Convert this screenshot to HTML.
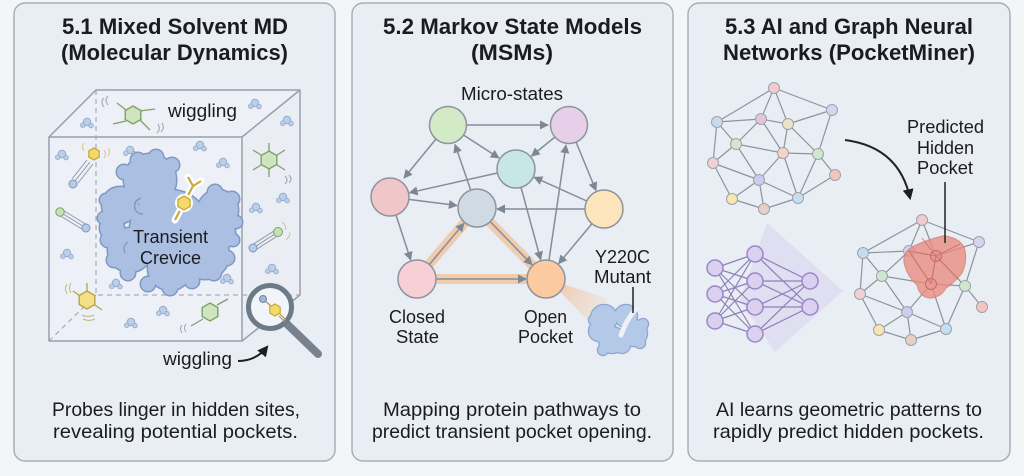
<!DOCTYPE html>
<html><head><meta charset="utf-8"><style>
html,body{margin:0;padding:0;background:#f4f5f7;}
svg{display:block;}
text{font-family:"Liberation Sans",Arial,sans-serif;fill:#1c1c1e;}
</style></head><body>
<svg width="1024" height="476" viewBox="0 0 1024 476" xmlns="http://www.w3.org/2000/svg">
<defs>
<marker id="ag" viewBox="0 0 10 10" refX="9" refY="5" markerWidth="9" markerHeight="9" markerUnits="userSpaceOnUse" orient="auto"><path d="M0,0 L10,5 L0,10 z" fill="#7e8794"/></marker>
<marker id="ab" viewBox="0 0 10 10" refX="8" refY="5" markerWidth="11" markerHeight="11" markerUnits="userSpaceOnUse" orient="auto"><path d="M0,0 L10,5 L0,10 z" fill="#1e1e1e"/></marker>
<polygon id="hex9" points="0,-9 7.8,-4.5 7.8,4.5 0,9 -7.8,4.5 -7.8,-4.5"/>
<polygon id="hex6" points="0,-6 5.2,-3 5.2,3 0,6 -5.2,3 -5.2,-3"/>
<polygon id="hex7" points="0,-7 6.1,-3.5 6.1,3.5 0,7 -6.1,3.5 -6.1,-3.5"/>
<g id="w"><circle cx="0" cy="0" r="3.8"/><circle cx="-4.2" cy="3.2" r="2.3"/><circle cx="4" cy="3.6" r="2.3"/></g>
<g id="blobc">
<circle cx="150" cy="180" r="26"/><circle cx="120" cy="205" r="18"/><circle cx="218" cy="210" r="20"/>
<circle cx="170" cy="230" r="40"/><circle cx="130" cy="250" r="22"/><circle cx="170" cy="268" r="22"/>
<circle cx="205" cy="255" r="24"/><circle cx="215" cy="232" r="20"/><circle cx="112" cy="228" r="12"/>
<circle cx="138" cy="160" r="7"/><circle cx="156" cy="157" r="7"/><circle cx="172" cy="165" r="7"/>
<circle cx="124" cy="172" r="7"/><circle cx="106" cy="200" r="6"/><circle cx="104" cy="218" r="6"/>
<circle cx="108" cy="240" r="7"/><circle cx="114" cy="260" r="7"/><circle cx="128" cy="273" r="7"/>
<circle cx="148" cy="284" r="7"/><circle cx="170" cy="288" r="7"/><circle cx="192" cy="281" r="7"/>
<circle cx="214" cy="273" r="7"/><circle cx="227" cy="258" r="7"/><circle cx="233" cy="240" r="6"/>
<circle cx="236" cy="222" r="6"/><circle cx="232" cy="199" r="7"/><circle cx="215" cy="192" r="7"/>
</g>
<g id="mutc">
<circle cx="604" cy="318" r="13"/><circle cx="626" cy="316" r="11"/><circle cx="634" cy="333" r="13"/>
<circle cx="612" cy="340" r="13"/><circle cx="599" cy="331" r="10"/><circle cx="622" cy="345" r="8"/>
<circle cx="594" cy="320" r="5"/><circle cx="643" cy="324" r="5"/><circle cx="603" cy="350" r="5"/><circle cx="640" cy="343" r="5"/>
</g>
<linearGradient id="beam" x1="0" y1="0" x2="1" y2="0.4"><stop offset="0" stop-color="#f0b98b" stop-opacity="0.85"/><stop offset="1" stop-color="#f3d3b8" stop-opacity="0.3"/></linearGradient>
</defs>

<!-- panels -->
<rect x="14" y="3" width="321" height="458" rx="11" fill="#e9edf4" stroke="#a9afb8" stroke-width="1.5"/>
<rect x="352" y="3" width="321" height="458" rx="11" fill="#e9edf4" stroke="#a9afb8" stroke-width="1.5"/>
<rect x="688" y="3" width="322" height="458" rx="11" fill="#e9edf4" stroke="#a9afb8" stroke-width="1.5"/>

<!-- titles -->
<g font-size="22" font-weight="bold" text-anchor="middle">
<text x="175" y="34" textLength="226" lengthAdjust="spacingAndGlyphs">5.1 Mixed Solvent MD</text>
<text x="174.5" y="60" textLength="227" lengthAdjust="spacingAndGlyphs">(Molecular Dynamics)</text>
<text x="512.5" y="34" textLength="259" lengthAdjust="spacingAndGlyphs">5.2 Markov State Models</text>
<text x="512" y="60" textLength="82" lengthAdjust="spacingAndGlyphs">(MSMs)</text>
<text x="849" y="34" textLength="248" lengthAdjust="spacingAndGlyphs">5.3 AI and Graph Neural</text>
<text x="849" y="60" textLength="252" lengthAdjust="spacingAndGlyphs">Networks (PocketMiner)</text>
</g>

<!-- captions -->
<g font-size="19.5" text-anchor="middle">
<text x="176" y="416" textLength="248" lengthAdjust="spacingAndGlyphs">Probes linger in hidden sites,</text>
<text x="175.5" y="438" textLength="245" lengthAdjust="spacingAndGlyphs">revealing potential pockets.</text>
<text x="512" y="416" textLength="258" lengthAdjust="spacingAndGlyphs">Mapping protein pathways to</text>
<text x="512" y="438" textLength="280" lengthAdjust="spacingAndGlyphs">predict transient pocket opening.</text>
<text x="849" y="416" textLength="266" lengthAdjust="spacingAndGlyphs">AI learns geometric patterns to</text>
<text x="848.5" y="438" textLength="271" lengthAdjust="spacingAndGlyphs">rapidly predict hidden pockets.</text>
</g>

<!-- ===== PANEL 1 ===== -->
<path d="M49,137 L242,137 L242,341 L49,341 Z" fill="#edf0f6"/>
<path d="M49,137 L96,90 L300,90 L242,137 Z" fill="#edf0f6"/>
<path d="M242,137 L300,90 L300,295 L242,341 Z" fill="#eaeef4"/>
<g stroke="#a7aeb8" stroke-width="1.2" stroke-dasharray="5,4" fill="none">
<path d="M96,90 L96,295 L300,295"/>
<path d="M49,341 L96,295"/>
</g>
<g stroke="#98a0ab" stroke-width="1.5" fill="none" stroke-linejoin="round">
<path d="M49,137 L242,137 L242,341 L49,341 Z"/>
<path d="M49,137 L96,90 L300,90 L242,137"/>
<path d="M300,90 L300,295 L242,341"/>
</g>

<!-- waters -->
<g fill="#bccfe9" stroke="#8ea7cb" stroke-width="0.8">
<use href="#w" x="87" y="122"/><use href="#w" x="255" y="103"/><use href="#w" x="287" y="120"/>
<use href="#w" x="62" y="154"/><use href="#w" x="130" y="150"/><use href="#w" x="200" y="145"/>
<use href="#w" x="223" y="162"/><use href="#w" x="283" y="197"/><use href="#w" x="256" y="207"/>
<use href="#w" x="67" y="253"/><use href="#w" x="272" y="268"/><use href="#w" x="116" y="283"/>
<use href="#w" x="163" y="310"/><use href="#w" x="131" y="322"/><use href="#w" x="227" y="278"/>
</g>

<!-- blob -->
<use href="#blobc" fill="#aabfe2" stroke="#7f98c4" stroke-width="3"/>
<use href="#blobc" fill="#aabfe2"/>
<path d="M141,198 q-8,3 -6,11 q2,5 8,5" fill="none" stroke="#7f98c4" stroke-width="1.5"/>
<path d="M128,242 q-6,4 -3,11" fill="none" stroke="#7f98c4" stroke-width="1.3"/>
<!-- yellow probe in crevice -->
<path d="M175,220 L193,186 M193,186 L188,177 M193,186 L201,181" stroke="#ffffff" stroke-width="7" stroke-linecap="round" fill="none"/>
<path d="M175,220 L193,186 M193,186 L188,177 M193,186 L201,181" stroke="#c9a93a" stroke-width="2.2" fill="none"/>
<circle cx="184" cy="203" r="9" fill="#fff"/>
<use href="#hex7" x="184" y="203" fill="#f5d96b" stroke="#c9a93a" stroke-width="1.4"/>
<g font-size="18" text-anchor="middle">
<text x="170.5" y="243" textLength="75" lengthAdjust="spacingAndGlyphs">Transient</text>
<text x="170.5" y="264" textLength="61" lengthAdjust="spacingAndGlyphs">Crevice</text>
</g>

<!-- top green benzene -->
<g stroke="#7fa06a" stroke-width="1.3" fill="none">
<path d="M126,110 L117,103 M140,111 L155,109 M126,121 L113,124 M140,120 L150,130"/>
<path d="M108,96 q-4,4 0,9 M104,98 q-4,4 0,9 M158,124 q3,5 -1,9 M162,123 q3,5 -1,9" stroke="#9aa3ad" stroke-width="1"/>
</g>
<use href="#hex9" x="133" y="115" fill="#cfe5bf" stroke="#7fa06a" stroke-width="1.4"/>
<!-- right face green benzene -->
<g stroke="#7fa06a" stroke-width="1.3">
<path d="M269,151 L269,143 M277,155 L285,150 M277,165 L285,170 M269,169 L269,177 M261,165 L253,170 M261,155 L253,150"/>
</g>
<use href="#hex9" x="269" y="160" fill="#cfe5bf" stroke="#7fa06a" stroke-width="1.4"/>
<path d="M285,176 q4,4 0,8 M289,175 q4,4 0,8" stroke="#9aa3ad" stroke-width="1" fill="none"/>
<!-- yellow hex + triple bond -->
<path d="M90,162 L75,181 M87,160 L72,179 M93,164 L78,183" stroke="#8d9aab" stroke-width="1"/>
<circle cx="73" cy="184" r="4" fill="#b8cbe6" stroke="#7f96bd" stroke-width="1"/>
<use href="#hex6" x="94" y="154" fill="#f5d96b" stroke="#c9a93a" stroke-width="1.3"/>
<path d="M84,143 q-3,4 0,8 M104,150 q3,4 0,8 M108,148 q3,4 0,8" stroke="#d8c880" stroke-width="1" fill="none"/>
<!-- green-blue triple bonds -->
<path d="M60,212 L86,228 M61,209 L87,225 M59,215 L85,231" stroke="#8d9aab" stroke-width="1"/>
<circle cx="60" cy="212" r="4.2" fill="#c6e2b5" stroke="#7fa06a" stroke-width="1"/>
<circle cx="86" cy="228" r="4" fill="#b8cbe6" stroke="#7f96bd" stroke-width="1"/>
<path d="M278,232 L253,248 M277,229 L252,245 M279,235 L254,251" stroke="#8d9aab" stroke-width="1"/>
<circle cx="278" cy="232" r="4.5" fill="#c6e2b5" stroke="#7fa06a" stroke-width="1"/>
<circle cx="253" cy="248" r="4" fill="#b8cbe6" stroke="#7f96bd" stroke-width="1"/>
<path d="M282,222 q4,3 4,8 M286,240 q4,-3 4,-8" stroke="#b7c9a5" stroke-width="1" fill="none"/>
<!-- yellow benzene bottom left -->
<g stroke="#b9a24a" stroke-width="1.3">
<path d="M87,291 L87,283 M80,296 L73,291 M95,305 L102,310"/>
</g>
<use href="#hex9" x="87" y="300" fill="#f5df87" stroke="#b9a24a" stroke-width="1.4"/>
<path d="M67,284 q-3,5 0,10 M71,283 q-3,5 0,10 M82,315 q6,3 12,0 M83,319 q6,3 12,0" stroke="#c4b878" stroke-width="1" fill="none"/>
<!-- green benzene bottom -->
<path d="M217,305 L228,299 M203,319 L191,326" stroke="#7fa06a" stroke-width="1.3"/>
<use href="#hex9" x="210" y="312" fill="#cfe5bf" stroke="#7fa06a" stroke-width="1.4"/>
<path d="M186,324 q-3,4 0,8 M182,325 q-3,4 0,8" stroke="#9aa3ad" stroke-width="1" fill="none"/>

<!-- magnifier -->
<line x1="287" y1="324" x2="318" y2="354" stroke="#76838f" stroke-width="8" stroke-linecap="round"/>
<circle cx="270" cy="307" r="21.5" fill="#f1f4f8" stroke="#6d7a88" stroke-width="5"/>
<path d="M264,300 L272,307 M279,316 L285,322 M280,314 L286,320" stroke="#a89a55" stroke-width="1.2"/>
<circle cx="263" cy="299" r="3.5" fill="#9fb6d8" stroke="#6f87ae" stroke-width="1"/>
<use href="#hex6" x="275" y="310" fill="#f5d96b" stroke="#c9a93a" stroke-width="1.2"/>
<g font-size="18" text-anchor="middle">
<text x="202.5" y="117" textLength="69" lengthAdjust="spacingAndGlyphs">wiggling</text>
<text x="197.5" y="365" textLength="69" lengthAdjust="spacingAndGlyphs">wiggling</text>
</g>
<path d="M238,361 Q256,361 267,347" fill="none" stroke="#1e1e1e" stroke-width="2" marker-end="url(#ab)"/>

<!-- ===== PANEL 2 ===== -->
<text x="512" y="100" font-size="18" text-anchor="middle" textLength="102" lengthAdjust="spacingAndGlyphs">Micro-states</text>
<!-- beam -->
<polygon points="548,279 608,299 592,325" fill="url(#beam)"/>
<!-- glow -->
<g stroke="#f2c297" stroke-width="10" stroke-linecap="round" opacity="0.75" fill="none">
<path d="M424,270 L468,219"/><path d="M487,219 L535,268"/><path d="M430,279 L530,279"/>
</g>
<g stroke="#858d99" stroke-width="1.5" fill="none" marker-end="url(#ag)">
<line x1="467" y1="125" x2="548" y2="125"/>
<line x1="436" y1="139" x2="404" y2="178"/>
<line x1="463.5" y1="135" x2="499" y2="158"/>
<line x1="470.7" y1="190" x2="455" y2="144.5"/>
<line x1="555" y1="137" x2="531.5" y2="156"/>
<line x1="576" y1="142" x2="596" y2="190.5"/>
<line x1="497.4" y1="173" x2="409.5" y2="192.7"/>
<line x1="408.8" y1="199.4" x2="457" y2="205.5"/>
<line x1="586.7" y1="201" x2="534.2" y2="177.3"/>
<line x1="585" y1="209" x2="497" y2="209"/>
<line x1="521" y1="187.3" x2="540.7" y2="259.7"/>
<line x1="549" y1="260" x2="566" y2="145"/>
<line x1="592" y1="223.6" x2="558.7" y2="263.6"/>
<line x1="396" y1="215" x2="410.7" y2="260"/>
<line x1="429.3" y1="264.5" x2="464" y2="223.3"/>
<line x1="490.2" y1="221.6" x2="532" y2="264.7"/>
<line x1="436" y1="279" x2="526" y2="279"/>
</g>
<g stroke="#8f939c" stroke-width="1.5">
<circle cx="448" cy="125" r="18.5" fill="#d2ebc6"/>
<circle cx="569" cy="125" r="18.5" fill="#e6d0e9"/>
<circle cx="516" cy="169" r="19" fill="#c6e7e6"/>
<circle cx="390" cy="197" r="19" fill="#f1c6c8"/>
<circle cx="477" cy="208" r="19" fill="#cfdae2"/>
<circle cx="604" cy="209" r="19" fill="#fce4bb"/>
<circle cx="417" cy="279" r="19" fill="#f7d0d6"/>
<circle cx="546" cy="279" r="19" fill="#fbca9e"/>
</g>
<!-- mutant blob -->
<use href="#mutc" fill="#b4c8e8" stroke="#8ea7cf" stroke-width="2.5"/>
<use href="#mutc" fill="#b4c8e8"/>
<path d="M636,309 Q626,320 621,335" stroke="#eef1f6" stroke-width="5" fill="none" stroke-linecap="round"/>
<line x1="633" y1="287" x2="633" y2="313" stroke="#222" stroke-width="1.5"/>
<g font-size="18" text-anchor="middle">
<text x="417" y="323" textLength="56" lengthAdjust="spacingAndGlyphs">Closed</text>
<text x="417.5" y="343" textLength="43" lengthAdjust="spacingAndGlyphs">State</text>
<text x="545.5" y="323" textLength="43" lengthAdjust="spacingAndGlyphs">Open</text>
<text x="545.5" y="343" textLength="55" lengthAdjust="spacingAndGlyphs">Pocket</text>
<text x="622.5" y="263" textLength="55" lengthAdjust="spacingAndGlyphs">Y220C</text>
<text x="622.5" y="283" textLength="57" lengthAdjust="spacingAndGlyphs">Mutant</text>
</g>

<!-- ===== PANEL 3 ===== -->
<!-- top-left graph -->
<g stroke="#8d949e" stroke-width="1.2">
<line x1="774" y1="88" x2="832" y2="110"/><line x1="717" y1="122" x2="774" y2="88"/>
<line x1="774" y1="88" x2="761" y2="119"/><line x1="774" y1="88" x2="788" y2="124"/>
<line x1="832" y1="110" x2="788" y2="124"/><line x1="832" y1="110" x2="818" y2="154"/>
<line x1="717" y1="122" x2="761" y2="119"/><line x1="717" y1="122" x2="713" y2="163"/>
<line x1="717" y1="122" x2="736" y2="144"/><line x1="761" y1="119" x2="788" y2="124"/>
<line x1="761" y1="119" x2="736" y2="144"/><line x1="761" y1="119" x2="783" y2="153"/>
<line x1="788" y1="124" x2="783" y2="153"/><line x1="788" y1="124" x2="818" y2="154"/>
<line x1="736" y1="144" x2="783" y2="153"/><line x1="736" y1="144" x2="713" y2="163"/>
<line x1="736" y1="144" x2="759" y2="180"/><line x1="783" y1="153" x2="818" y2="154"/>
<line x1="783" y1="153" x2="759" y2="180"/><line x1="783" y1="153" x2="798" y2="198"/>
<line x1="818" y1="154" x2="835" y2="175"/><line x1="818" y1="154" x2="798" y2="198"/>
<line x1="713" y1="163" x2="759" y2="180"/><line x1="713" y1="163" x2="732" y2="199"/>
<line x1="835" y1="175" x2="798" y2="198"/><line x1="759" y1="180" x2="732" y2="199"/>
<line x1="759" y1="180" x2="764" y2="209"/><line x1="759" y1="180" x2="798" y2="198"/>
<line x1="732" y1="199" x2="764" y2="209"/><line x1="764" y1="209" x2="798" y2="198"/>
</g>
<g stroke="#9ea3ab" stroke-width="1">
<circle cx="774" cy="88" r="5.5" fill="#f2c9cf"/><circle cx="832" cy="110" r="5.5" fill="#d9d3ef"/>
<circle cx="717" cy="122" r="5.5" fill="#c5dcf0"/><circle cx="761" cy="119" r="5.5" fill="#e5c5dc"/>
<circle cx="788" cy="124" r="5.5" fill="#ede3c9"/><circle cx="736" cy="144" r="5.5" fill="#cfe8cd"/>
<circle cx="783" cy="153" r="5.5" fill="#f6d3c6"/><circle cx="818" cy="154" r="5.5" fill="#cfe8cd"/>
<circle cx="713" cy="163" r="5.5" fill="#f2cfd4"/><circle cx="835" cy="175" r="5.5" fill="#f6c4bd"/>
<circle cx="759" cy="180" r="5.5" fill="#c9cdf0"/><circle cx="732" cy="199" r="5.5" fill="#f7e6b0"/>
<circle cx="798" cy="198" r="5.5" fill="#c5def2"/><circle cx="764" cy="209" r="5.5" fill="#e6cfc4"/>
</g>
<path d="M845,140 Q899,147 910,198" fill="none" stroke="#222" stroke-width="2" marker-end="url(#ab)"/>
<g font-size="18" text-anchor="middle">
<text x="945.5" y="133" textLength="77" lengthAdjust="spacingAndGlyphs">Predicted</text>
<text x="945.5" y="154" textLength="57" lengthAdjust="spacingAndGlyphs">Hidden</text>
<text x="945" y="174" textLength="56" lengthAdjust="spacingAndGlyphs">Pocket</text>
</g>

<!-- neural net -->
<polygon points="767,223 843,291 775,352 740,300" fill="#d5cbee" opacity="0.45"/>
<g stroke="#8f7fbb" stroke-width="1.2">
<line x1="715" y1="268" x2="755" y2="254"/><line x1="715" y1="268" x2="755" y2="281"/><line x1="715" y1="268" x2="755" y2="307"/><line x1="715" y1="268" x2="755" y2="334"/>
<line x1="715" y1="294" x2="755" y2="254"/><line x1="715" y1="294" x2="755" y2="281"/><line x1="715" y1="294" x2="755" y2="307"/><line x1="715" y1="294" x2="755" y2="334"/>
<line x1="715" y1="321" x2="755" y2="254"/><line x1="715" y1="321" x2="755" y2="281"/><line x1="715" y1="321" x2="755" y2="307"/><line x1="715" y1="321" x2="755" y2="334"/>
<line x1="755" y1="254" x2="810" y2="281"/><line x1="755" y1="254" x2="810" y2="307"/>
<line x1="755" y1="281" x2="810" y2="281"/><line x1="755" y1="281" x2="810" y2="307"/>
<line x1="755" y1="307" x2="810" y2="281"/><line x1="755" y1="307" x2="810" y2="307"/>
<line x1="755" y1="334" x2="810" y2="281"/><line x1="755" y1="334" x2="810" y2="307"/>
</g>
<g fill="#dbd0f0" stroke="#9a87c6" stroke-width="1.5">
<circle cx="715" cy="268" r="8"/><circle cx="715" cy="294" r="8"/><circle cx="715" cy="321" r="8"/>
<circle cx="755" cy="254" r="8"/><circle cx="755" cy="281" r="8"/><circle cx="755" cy="307" r="8"/><circle cx="755" cy="334" r="8"/>
<circle cx="810" cy="281" r="8"/><circle cx="810" cy="307" r="8"/>
</g>

<!-- bottom-right graph -->
<g stroke="#8d949e" stroke-width="1.2">
<line x1="922" y1="220" x2="863" y2="253"/><line x1="922" y1="220" x2="909" y2="251"/>
<line x1="922" y1="220" x2="936" y2="256"/><line x1="922" y1="220" x2="979" y2="242"/>
<line x1="863" y1="253" x2="909" y2="251"/><line x1="863" y1="253" x2="882" y2="276"/>
<line x1="863" y1="253" x2="860" y2="294"/><line x1="909" y1="251" x2="882" y2="276"/>
<line x1="909" y1="251" x2="936" y2="256"/><line x1="909" y1="251" x2="931" y2="284"/>
<line x1="936" y1="256" x2="979" y2="242"/><line x1="936" y1="256" x2="931" y2="284"/>
<line x1="936" y1="256" x2="965" y2="286"/><line x1="979" y1="242" x2="965" y2="286"/>
<line x1="882" y1="276" x2="931" y2="284"/><line x1="882" y1="276" x2="860" y2="294"/>
<line x1="882" y1="276" x2="907" y2="312"/><line x1="931" y1="284" x2="965" y2="286"/>
<line x1="931" y1="284" x2="907" y2="312"/><line x1="931" y1="284" x2="946" y2="329"/>
<line x1="965" y1="286" x2="982" y2="307"/><line x1="965" y1="286" x2="946" y2="329"/>
<line x1="860" y1="294" x2="907" y2="312"/><line x1="860" y1="294" x2="879" y2="330"/>
<line x1="907" y1="312" x2="879" y2="330"/><line x1="907" y1="312" x2="911" y2="340"/>
<line x1="907" y1="312" x2="946" y2="329"/><line x1="879" y1="330" x2="911" y2="340"/>
<line x1="911" y1="340" x2="946" y2="329"/>
</g>
<g stroke="#9ea3ab" stroke-width="1">
<circle cx="922" cy="220" r="5.5" fill="#f2c9cf"/><circle cx="979" cy="242" r="5.5" fill="#d9d3ef"/>
<circle cx="863" cy="253" r="5.5" fill="#c5dcf0"/><circle cx="909" cy="251" r="5.5" fill="#d9d3ef"/>
<circle cx="936" cy="256" r="5.5" fill="#f2c9cf"/><circle cx="882" cy="276" r="5.5" fill="#cfe8cd"/>
<circle cx="931" cy="284" r="5.5" fill="#f6d3c6"/><circle cx="965" cy="286" r="5.5" fill="#cfe8cd"/>
<circle cx="860" cy="294" r="5.5" fill="#f2cfd4"/><circle cx="982" cy="307" r="5.5" fill="#f6c4bd"/>
<circle cx="907" cy="312" r="5.5" fill="#c9cdf0"/><circle cx="879" cy="330" r="5.5" fill="#f7e6b0"/>
<circle cx="946" cy="329" r="5.5" fill="#c5def2"/><circle cx="911" cy="340" r="5.5" fill="#e6cfc4"/>
</g>
<path d="M943,236 Q958,237 964,247 Q968,260 962,273 Q954,283 946,288 Q941,297 931,298 Q920,298 917,285 Q908,277 905,266 Q901,254 912,247 Q926,240 943,236 Z" fill="#e88d82" opacity="0.8" stroke="#d27c72" stroke-width="1.2"/>
<g stroke="#c46f66" stroke-width="1" opacity="0.8">
<line x1="909" y1="251" x2="936" y2="256"/><line x1="936" y1="256" x2="931" y2="284"/>
<line x1="909" y1="251" x2="931" y2="284"/><line x1="936" y1="256" x2="960" y2="281"/>
<line x1="936" y1="256" x2="960" y2="244"/><line x1="922" y1="238" x2="936" y2="256"/>
</g>
<g fill="none" stroke="#c46f66" stroke-width="1">
<circle cx="936" cy="256" r="5.5"/><circle cx="931" cy="284" r="5.5"/>
</g>
<line x1="945" y1="182" x2="945" y2="243" stroke="#222" stroke-width="1.5"/>
</svg>
</body></html>
